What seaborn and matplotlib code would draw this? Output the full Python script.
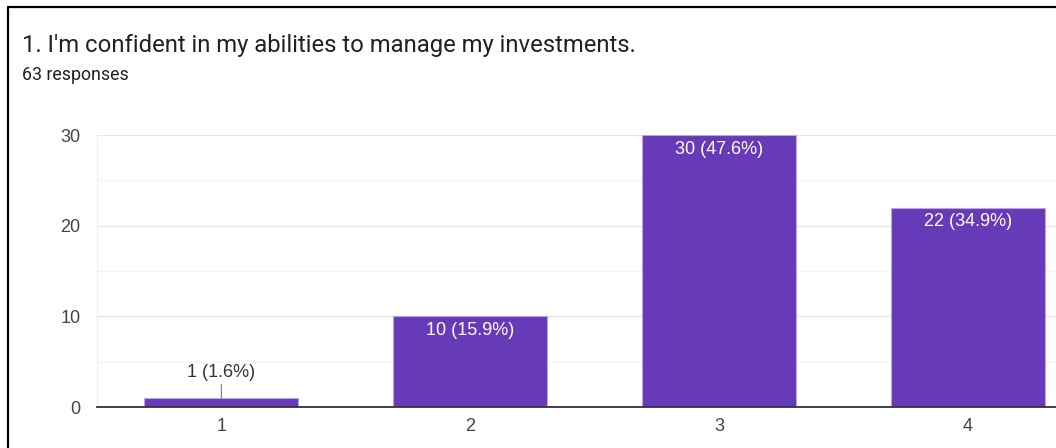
import matplotlib
matplotlib.use("Agg")
import matplotlib.pyplot as plt
from matplotlib.lines import Line2D
import pandas as pd
import seaborn as sns

# Survey results
title = "1. I'm confident in my abilities to manage my investments."
subtitle = "63 responses"
ratings = ["1", "2", "3", "4"]
counts = [1, 10, 30, 22]
percents = [1.6, 15.9, 47.6, 34.9]
y_ticks = [0, 10, 20, 30]

BAR = "#673ab7"
W, H, DPI = 1056, 448, 100

sns.set_theme(style="white")
plt.rcParams["font.family"] = ["Liberation Sans", "DejaVu Sans"]

fig = plt.figure(figsize=(W / DPI, H / DPI), dpi=DPI)
fig.patch.set_facecolor("white")

# plot area in pixel coordinates (right side runs past the canvas edge)
left_px, right_px = 97, 1092
top_px, bottom_px = 135, 407
ax = fig.add_axes([left_px / W, 1 - bottom_px / H,
                   (right_px - left_px) / W, (bottom_px - top_px) / H])

df = pd.DataFrame({"rating": ratings, "count": counts})
sns.barplot(data=df, x="rating", y="count", color=BAR, saturation=1,
            width=0.62, ax=ax, edgecolor="#b9a5e3", linewidth=0.8, zorder=3)

ax.set_xlim(-0.5, len(ratings) - 0.5)
ax.set_ylim(0, 30)
ax.set_yticks(y_ticks)
ax.set_yticks([5, 15, 25], minor=True)
ax.grid(axis="y", which="major", color="#e6e6e6", linewidth=1.0, zorder=0)
ax.grid(axis="y", which="minor", color="#f4f4f4", linewidth=1.0, zorder=0)
ax.set_axisbelow(True)

for side in ["top", "right"]:
    ax.spines[side].set_visible(False)
ax.spines["left"].set_color("#eeeeee")
ax.spines["left"].set_linewidth(0.8)
ax.spines["bottom"].set_color("#333333")
ax.spines["bottom"].set_linewidth(1.3)
ax.spines["bottom"].set_zorder(4)

ax.tick_params(axis="y", length=0, pad=12, labelsize=13, labelcolor="#444444")
ax.tick_params(axis="x", length=0, pad=8, labelsize=13, labelcolor="#444444")
ax.set_xlabel("")
ax.set_ylabel("")

# value labels
for i, (c, p) in enumerate(zip(counts, percents)):
    label = f"{c} ({p}%)"
    if c >= 5:
        ax.annotate(label, xy=(i, c), xytext=(0, -4), textcoords="offset points",
                    ha="center", va="top", fontsize=13, color="white", zorder=5)
    else:
        ax.annotate(label, xy=(i, c), xytext=(0, 12), textcoords="offset points",
                    ha="center", va="bottom", fontsize=13, color="#333333",
                    arrowprops=dict(arrowstyle="-", color="#777777", lw=0.8,
                                    shrinkA=0, shrinkB=0), zorder=5)

# heading
fig.text(22 / W, 1 - 52 / H, title, fontsize=17.2, color="#202124",
         family=["Roboto", "DejaVu Sans"], va="baseline", ha="left")
fig.text(22 / W, 1 - 80 / H, subtitle, fontsize=12.8, color="#202124",
         family=["Roboto", "DejaVu Sans"], va="baseline", ha="left")

# card frame along the top and left edges
fig.add_artist(Line2D([8 / W, 1], [1 - 7 / H, 1 - 7 / H], color="black",
                      linewidth=1.6, transform=fig.transFigure))
fig.add_artist(Line2D([8 / W, 8 / W], [0, 1 - 7 / H], color="black",
                      linewidth=1.6, transform=fig.transFigure))

fig.savefig("out.png", dpi=DPI, facecolor="white")
